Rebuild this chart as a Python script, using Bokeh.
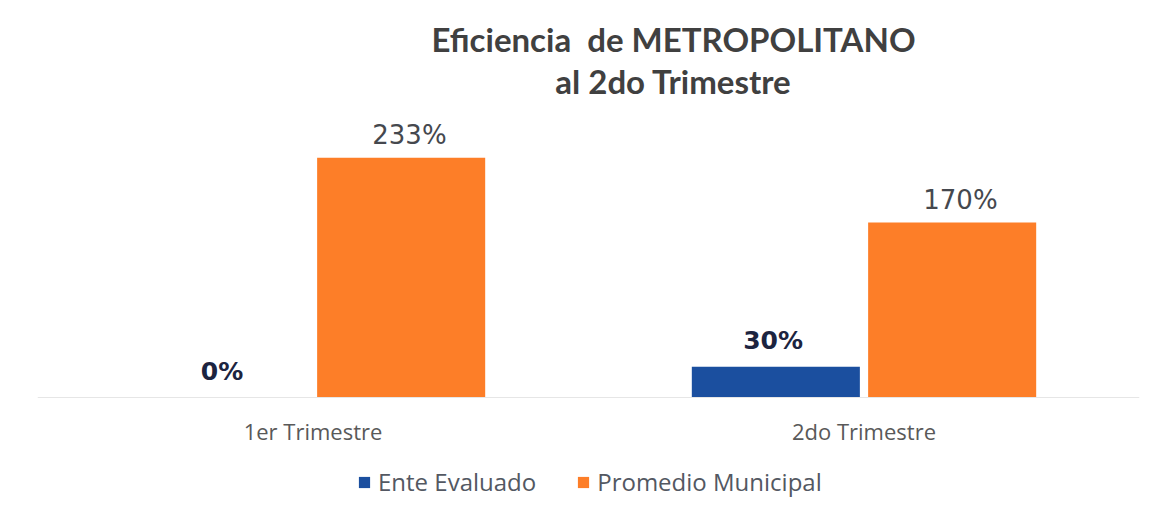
from bokeh.plotting import figure
from bokeh.models import ColumnDataSource, FactorRange, Range1d, Label, Legend, LegendItem
from bokeh.transform import dodge
from bokeh.core.properties import value
from bokeh.embed import file_html
from bokeh.resources import INLINE

categories = ["1er Trimestre", "2do Trimestre"]
ente_evaluado = [0, 30]
promedio_municipal = [233, 170]
ente_labels = ["0%", "30%"]
promedio_labels = ["233%", "170%"]
series_names = ["Ente Evaluado", "Promedio Municipal"]
title_lines = ["Eficiencia\u00a0\u00a0de METROPOLITANO", "al 2do Trimestre"]

BLUE = "#1b4f9f"
ORANGE = "#fd7e28"

src = ColumnDataSource(dict(cat=categories, ente=ente_evaluado, prom=promedio_municipal,
                            ente_lbl=ente_labels, prom_lbl=promedio_labels))

p = figure(x_range=FactorRange(factors=categories, range_padding=0),
           y_range=Range1d(-110.7, 378),
           frame_width=1102, frame_height=503,
           min_border_left=37, min_border_right=4, min_border_top=8, min_border_bottom=0,
           output_backend="svg", toolbar_location=None,
           background_fill_color="white", border_fill_color="white", outline_line_color=None)

r1 = p.vbar(x=dodge("cat", -0.16, range=p.x_range), top="ente", width=0.305, source=src,
            fill_color=BLUE, line_color=None)
r2 = p.vbar(x=dodge("cat", 0.16, range=p.x_range), top="prom", width=0.305, source=src,
            fill_color=ORANGE, line_color=None)

p.text(x=dodge("cat", -0.165, range=p.x_range), y="ente", text="ente_lbl", source=src,
       y_offset=-12, text_align="center", text_baseline="bottom",
       text_font=value("DejaVu Sans"), text_font_style="bold", text_font_size="25px",
       text_color="#1c2440")
p.text(x=dodge("cat", 0.175, range=p.x_range), y="prom", text="prom_lbl", source=src,
       y_offset=-8, text_align="center", text_baseline="bottom",
       text_font=value("DejaVu Sans"), text_font_size="26px", text_color="#45484e")

p.xgrid.grid_line_color = None
p.ygrid.grid_line_color = None
p.yaxis.visible = False
ax = p.xaxis[0]
ax.fixed_location = 0
ax.axis_line_color = "#e6e6e6"
ax.major_tick_line_color = None
ax.minor_tick_line_color = None
ax.major_label_text_font = "Open Sans"
ax.major_label_text_font_size = "22px"
ax.major_label_text_color = "#595959"
ax.major_label_standoff = 12

for i, t in enumerate(title_lines):
    p.add_layout(Label(x=636, y=473 - 42 * i, x_units="screen", y_units="screen",
                       text=t, text_align="center", text_baseline="middle",
                       text_font="Lato", text_font_style="bold", text_font_size="33px",
                       text_color="#404040"))

legend = Legend(items=[LegendItem(label=series_names[0], renderers=[r1]),
                       LegendItem(label=series_names[1], renderers=[r2])],
                orientation="horizontal", location=(320, 13),
                label_text_font="Open Sans", label_text_font_size="24px", label_text_color="#535862",
                glyph_width=14, glyph_height=14, spacing=40, label_standoff=7,
                border_line_color=None, background_fill_alpha=0, padding=4, margin=0)
p.add_layout(legend, "center")

open("out.html", "w").write(file_html(p, INLINE))
